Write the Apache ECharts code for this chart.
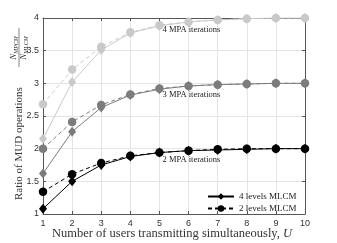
<!DOCTYPE html>
<html><head><meta charset="utf-8">
<script src="https://cdn.jsdelivr.net/npm/echarts@6/dist/echarts.min.js"></script>
<style>html,body{margin:0;padding:0;background:#fff}#c{width:337px;height:243px}</style>
</head><body><div id="c"></div>
<script>
const users = [1,2,3,4,5,6,7,8,9,10];
const yTicks = [1,1.5,2,2.5,3,3.5,4];
const xTitle = 'Number of users transmitting simultaneously, ';
const yTitle = 'Ratio of MUD operations';
const legendNames = ['4 levels MLCM','2 levels MLCM'];
const groupNames = ['2 MPA iterations','3 MPA iterations','4 MPA iterations'];
const lv4_mpa2 = [1.08,1.5,1.75,1.88,1.94,1.97,1.98,1.99,2,2];
const lv2_mpa2 = [1.34,1.61,1.78,1.89,1.94,1.97,1.99,2,2,2];
const lv4_mpa3 = [1.62,2.26,2.63,2.82,2.91,2.96,2.98,2.99,3,3];
const lv2_mpa3 = [2.0,2.41,2.67,2.83,2.92,2.96,2.98,2.99,3,3];
const lv4_mpa4 = [2.15,3.02,3.51,3.77,3.88,3.94,3.97,3.99,4,4];
const lv2_mpa4 = [2.68,3.21,3.56,3.78,3.89,3.94,3.97,3.99,4,4];
const labelPos = [[6.1,1.83],[6.1,2.83],[6.1,3.82]];

const colors = ['#000000','#7c7c7c','#c9c9c9'];
const serif = '"Liberation Serif","DejaVu Serif",serif';
const sans = '"Liberation Sans","DejaVu Sans",sans-serif';
const pairs = [[lv4_mpa2,lv2_mpa2],[lv4_mpa3,lv2_mpa3],[lv4_mpa4,lv2_mpa4]];
const series = [];
pairs.forEach((p,i)=>{
  series.push({type:'line',name:legendNames[0],data:users.map((u,k)=>[u,p[0][k]]),
    symbol:'diamond',symbolSize:[8,10],color:colors[i],z:3,
    lineStyle:{width:1,color:colors[i]},itemStyle:{color:colors[i]}});
  series.push({type:'line',name:legendNames[1],data:users.map((u,k)=>[u,p[1][k]]),
    symbol:'circle',symbolSize:8.5,color:colors[i],z:2,
    lineStyle:{width:1,type:[4,3],color:colors[i]},itemStyle:{color:colors[i]}});
});
const ax = {color:'#555',width:1};
const chart = echarts.init(document.getElementById('c'));
chart.setOption({
  animation:false,
  grid:{left:43,right:32,top:18,bottom:29},
  legend:{data:legendNames,orient:'vertical',left:202,top:187,itemGap:3,itemWidth:26,itemHeight:8,
    textStyle:{fontFamily:serif,fontSize:9,color:'#222'}},
  xAxis:[{type:'value',min:1,max:10,interval:1,
    axisLine:{lineStyle:ax},axisTick:{inside:true,length:3,lineStyle:ax},
    splitLine:{lineStyle:{color:'#e4e4e4'}},
    axisLabel:{fontFamily:sans,fontSize:9,color:'#333',margin:5}},
    {type:'value',position:'top',min:1,max:10,interval:1,axisLine:{lineStyle:ax},
    axisTick:{inside:true,length:3,lineStyle:ax},axisLabel:{show:false},splitLine:{show:false}}],
  yAxis:[{type:'value',min:1,max:4,interval:0.5,
    axisLine:{show:true,lineStyle:ax},axisTick:{show:true,inside:true,length:3,lineStyle:ax},
    splitLine:{lineStyle:{color:'#e4e4e4'}},
    axisLabel:{fontFamily:sans,fontSize:9,color:'#333',margin:4,formatter:v=>yTicks.includes(v)?String(v):''}},
    {type:'value',position:'right',min:1,max:4,interval:0.5,axisLine:{show:true,lineStyle:ax},
    axisTick:{show:true,inside:true,length:3,lineStyle:ax},axisLabel:{show:false},splitLine:{show:false}}],
  series:series
});
const g = [];
labelPos.forEach((p,i)=>{
  const px = chart.convertToPixel({gridIndex:0},p);
  g.push({type:'text',x:px[0],y:px[1],style:{text:groupNames[i],fontFamily:serif,fontSize:8.5,fill:'#222',align:'center',verticalAlign:'middle'}});
});
g.push({type:'text',x:172,y:234,style:{text:'{a|'+xTitle+'}{i|U}',align:'center',verticalAlign:'middle',
  rich:{a:{fontFamily:serif,fontSize:12.5,fill:'#333'},i:{fontFamily:serif,fontSize:12.5,fontStyle:'italic',fill:'#333'}}}});
const sub = {n:{fontFamily:serif,fontSize:9,fontStyle:'italic',fill:'#333'},s:{fontFamily:serif,fontSize:6,fontStyle:'italic',fill:'#333',padding:[4,0,0,0]}};
g.push({type:'group',x:19,y:200,rotation:Math.PI/2,children:[
  {type:'text',x:0,y:0,style:{text:yTitle,fontFamily:serif,fontSize:11,fill:'#333',align:'left',verticalAlign:'middle'}},
  {type:'text',x:152,y:-5,style:{text:'{n|N}{s|MPCM}',align:'center',verticalAlign:'middle',rich:sub}},
  {type:'line',shape:{x1:133,y1:0,x2:172,y2:0},style:{stroke:'#333',lineWidth:0.6}},
  {type:'text',x:152,y:5,style:{text:'{n|N}{s|MLCM}',align:'center',verticalAlign:'middle',rich:sub}}
]});
chart.setOption({graphic:g});
</script></body></html>
